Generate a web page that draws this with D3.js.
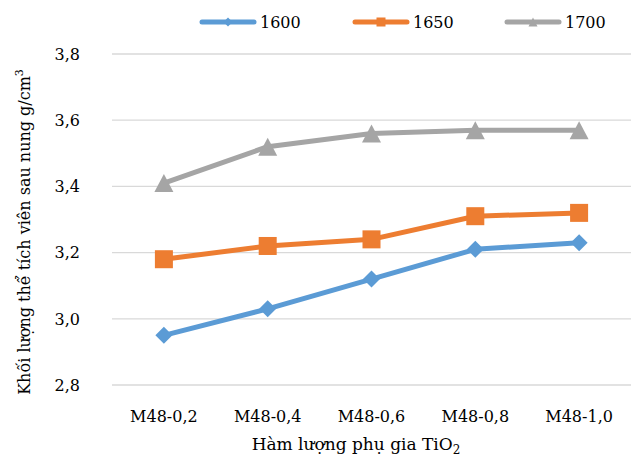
<!DOCTYPE html>
<html><head><meta charset="utf-8">
<script src="https://cdn.jsdelivr.net/npm/d3@7"></script>
<style>body{margin:0;background:#fff}svg{display:block}text{font-family:"DejaVu Serif",serif;fill:#000}</style>
</head><body>
<script>
const categories = ["M48-0,2","M48-0,4","M48-0,6","M48-0,8","M48-1,0"];
const seriesNames = ["1600","1650","1700"];
const s1600 = [2.95,3.03,3.12,3.21,3.23];
const s1650 = [3.18,3.22,3.24,3.31,3.32];
const s1700 = [3.41,3.52,3.56,3.57,3.57];
const yTicks = [2.8,3.0,3.2,3.4,3.6,3.8];
const yTickLabels = ["2,8","3,0","3,2","3,4","3,6","3,8"];

const W=633,H=461;
const svg=d3.select("body").append("svg").attr("width",W).attr("height",H);
const x=d3.scalePoint().domain(categories).range([112,631]).padding(0.5);
const y=d3.scaleLinear().domain([2.8,3.8]).range([385,54]);

svg.append("g").selectAll("line").data(yTicks).join("line")
  .attr("x1",112).attr("x2",631).attr("y1",d=>y(d)).attr("y2",d=>y(d))
  .attr("stroke","#d9d9d9").attr("stroke-width",1.3);

svg.append("g").selectAll("text").data(yTicks).join("text")
  .attr("x",80).attr("y",d=>y(d)).attr("dy","0.36em").attr("text-anchor","end")
  .attr("font-size",16).text((d,i)=>yTickLabels[i]);

svg.append("g").selectAll("text").data(categories).join("text")
  .attr("x",d=>x(d)).attr("y",422).attr("text-anchor","middle")
  .attr("font-size",16).text(d=>d);

const xt=svg.append("text").attr("x",356).attr("y",450).attr("text-anchor","middle").attr("font-size",17);
xt.append("tspan").text("Hàm lượng phụ gia TiO");
xt.append("tspan").attr("font-size",12).attr("dy",4).text("2");

const yt=svg.append("text").attr("transform","translate(30,232) rotate(-90)").attr("text-anchor","middle").attr("font-size",16);
yt.append("tspan").text("Khối lượng thể tích viên sau nung g/cm");
yt.append("tspan").attr("font-size",11).attr("dy",-7).text("3");

const colors=["#5b9bd5","#ed7d31","#a5a5a5"];
const data=[s1600,s1650,s1700];
const sizes=[[17,17],[18,18],[19,18]];

function sym(g,i,w,h,cx,cy){
  if(i===0){g.append("path").attr("d",`M${cx},${cy-h/2}L${cx+w/2},${cy}L${cx},${cy+h/2}L${cx-w/2},${cy}Z`).attr("fill",colors[i]);}
  else if(i===1){g.append("rect").attr("x",cx-w/2).attr("y",cy-h/2).attr("width",w).attr("height",h).attr("fill",colors[i]);}
  else {g.append("path").attr("d",`M${cx},${cy-h/2}L${cx+w/2},${cy+h/2}L${cx-w/2},${cy+h/2}Z`).attr("fill",colors[i]);}
}

data.forEach((vals,i)=>{
  const line=d3.line().x((d,j)=>x(categories[j])).y(d=>y(d));
  svg.append("path").datum(vals).attr("d",line).attr("fill","none")
    .attr("stroke",colors[i]).attr("stroke-width",5).attr("stroke-linejoin","round").attr("stroke-linecap","round");
  const g=svg.append("g");
  vals.forEach((v,j)=>sym(g,i,sizes[i][0],sizes[i][1],x(categories[j]),y(v)));
});

// legend
const legX=[200,353,505];
seriesNames.forEach((n,i)=>{
  const g=svg.append("g");
  g.append("line").attr("x1",legX[i]+2).attr("x2",legX[i]+54).attr("y1",22).attr("y2",22)
    .attr("stroke",colors[i]).attr("stroke-width",5).attr("stroke-linecap","round");
  sym(g,i,9,9,legX[i]+28,22);
  g.append("text").attr("x",legX[i]+60).attr("y",22).attr("dy","0.36em").attr("font-size",16).text(n);
});
</script>
</body></html>
